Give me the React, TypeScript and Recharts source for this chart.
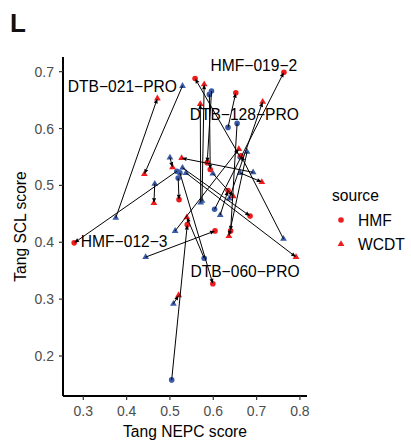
import React from 'react';
import { ScatterChart, Scatter, XAxis, YAxis } from 'recharts';

// ---- data: each sample goes from a "pre" point (blue) to a "post" point (red) ----
const preX = [0.375, 0.529, 0.465, 0.516, 0.519, 0.500, 0.692, 0.591, 0.662, 0.634, 0.571, 0.574, 0.596, 0.637, 0.603, 0.662, 0.678, 0.512, 0.762, 0.444, 0.504, 0.579, 0.508, 0.537, 0.529, 0.523, 0.599, 0.616, 0.655];
const preY = [0.443, 0.675, 0.503, 0.525, 0.513, 0.549, 0.523, 0.660, 0.550, 0.602, 0.470, 0.473, 0.666, 0.477, 0.458, 0.522, 0.559, 0.420, 0.406, 0.374, 0.158, 0.372, 0.292, 0.522, 0.531, 0.522, 0.521, 0.448, 0.609];
const preSrc = ['WCDT', 'WCDT', 'WCDT', 'HMF', 'HMF', 'WCDT', 'WCDT', 'HMF', 'HMF', 'HMF', 'WCDT', 'WCDT', 'HMF', 'WCDT', 'HMF', 'WCDT', 'WCDT', 'WCDT', 'WCDT', 'WCDT', 'HMF', 'HMF', 'WCDT', 'WCDT', 'WCDT', 'HMF', 'WCDT', 'WCDT', 'HMF'];
const postX = [0.471, 0.441, 0.463, 0.279, 0.521, 0.506, 0.527, 0.593, 0.558, 0.652, 0.570, 0.579, 0.586, 0.714, 0.763, 0.712, 0.636, 0.659, 0.664, 0.604, 0.540, 0.539, 0.520, 0.791, 0.685, 0.599, 0.646, 0.634, 0.640];
const postY = [0.653, 0.520, 0.469, 0.399, 0.475, 0.532, 0.548, 0.528, 0.688, 0.663, 0.643, 0.678, 0.540, 0.647, 0.699, 0.506, 0.411, 0.564, 0.552, 0.420, 0.431, 0.444, 0.307, 0.374, 0.446, 0.327, 0.481, 0.491, 0.420];
const postSrc = ['WCDT', 'WCDT', 'WCDT', 'HMF', 'HMF', 'WCDT', 'WCDT', 'HMF', 'HMF', 'HMF', 'WCDT', 'WCDT', 'HMF', 'WCDT', 'HMF', 'WCDT', 'WCDT', 'WCDT', 'HMF', 'HMF', 'HMF', 'WCDT', 'WCDT', 'WCDT', 'HMF', 'HMF', 'WCDT', 'HMF', 'HMF'];

const labelNames = ['HMF−019−2', 'DTB−021−PRO', 'DTB−128−PRO', 'HMF−012−3', 'DTB−060−PRO'];
const labelSample = [14, 0, 13, 3, 23];

const xTicks = [0.3, 0.4, 0.5, 0.6, 0.7, 0.8];
const yTicks = [0.2, 0.3, 0.4, 0.5, 0.6, 0.7];
const legendItems = ['HMF', 'WCDT'];

// ---- styling / layout ----
const FONT = '"Liberation Sans", Arial, Helvetica, sans-serif';
const RED = '#ee1c1c';
const BLUE = '#3b5ba8';
const LABEL_SIZE = 15.6;
const LABEL_OFFSETS = [
  { dx: -30, dy: -6.5 },
  { dx: -35, dy: -12.3 },
  { dx: -18.4, dy: 13 },
  { dx: 50, dy: -1.7 },
  { dx: -51, dy: 14.3 },
];

const tri = (cx: number, cy: number) =>
  `${cx},${cy - 3.8} ${cx - 3.4},${cy + 2} ${cx + 3.4},${cy + 2}`;

const makeShape = (color: string) => (props: any) => {
  const { cx, cy, payload } = props;
  if (cx == null || cy == null) return <g />;
  if (payload.src === 'WCDT') return <polygon points={tri(cx, cy)} fill={color} />;
  return <circle cx={cx} cy={cy} r={2.8} fill={color} />;
};
const BlueShape = makeShape(BLUE);
const RedShape = makeShape(RED);
const Empty = () => <g />;

const renderArrow = (props: any) => {
  const pts = props.points;
  if (!pts || pts.length < 2) return <g />;
  const a = pts[0];
  const b = pts[1];
  const dx = b.x - a.x;
  const dy = b.y - a.y;
  const len = Math.hypot(dx, dy) || 1;
  const ux = dx / len;
  const uy = dy / len;
  const L = 5;
  const W = 2;
  const bx = b.x - ux * L;
  const by = b.y - uy * L;
  const head = `${b.x},${b.y} ${bx - uy * W},${by + ux * W} ${bx + uy * W},${by - ux * W}`;
  return (
    <g>
      <line x1={a.x} y1={a.y} x2={bx} y2={by} stroke="#000" strokeWidth={1} />
      <polygon points={head} fill="#000" />
    </g>
  );
};

const LabelShape = (props: any) => {
  const { cx, cy, payload } = props;
  if (cx == null) return <g />;
  const off = LABEL_OFFSETS[payload.j];
  return (
    <text
      x={cx + off.dx}
      y={cy + off.dy + LABEL_SIZE * 0.358}
      textAnchor="middle"
      fontFamily={FONT}
      fontSize={LABEL_SIZE}
      fill="#000"
    >
      {payload.name}
    </text>
  );
};

const preData = preX.map((x, i) => ({ x, y: preY[i], src: preSrc[i] }));
const postData = postX.map((x, i) => ({ x, y: postY[i], src: postSrc[i] }));
const labelData = labelSample.map((k, j) => ({ x: postX[k], y: postY[k], name: labelNames[j], j }));

export default function App() {
  return (
    <div style={{ position: 'absolute', left: 0, top: 0, width: 411, height: 442, background: '#fff' }}>
      <ScatterChart width={411} height={442} margin={{ top: 57, right: 104, bottom: 16, left: 13 }}>
        <XAxis
          type="number"
          dataKey="x"
          domain={[0.2532, 0.8163]}
          allowDataOverflow
          ticks={xTicks}
          tickFormatter={(v: number) => v.toFixed(1)}
          height={30}
          axisLine={{ stroke: '#000', strokeWidth: 2 }}
          tickLine={{ stroke: '#333', strokeWidth: 1.2 }}
          tickSize={4}
          tickMargin={6}
          tick={{ fill: '#4d4d4d', fontSize: 14, fontFamily: FONT }}
        />
        <YAxis
          type="number"
          dataKey="y"
          domain={[0.1297, 0.7258]}
          allowDataOverflow
          ticks={yTicks}
          tickFormatter={(v: number) => v.toFixed(1)}
          width={50}
          axisLine={{ stroke: '#000', strokeWidth: 2 }}
          tickLine={{ stroke: '#333', strokeWidth: 1.2 }}
          tickSize={4}
          tickMargin={5}
          tick={{ fill: '#4d4d4d', fontSize: 14, fontFamily: FONT }}
        />
        <Scatter data={preData} shape={BlueShape} isAnimationActive={false} legendType="none" />
        <Scatter data={postData} shape={RedShape} isAnimationActive={false} legendType="none" />
        {preX.map((_, i) => (
          <Scatter
            key={'arr' + i}
            data={[{ x: preX[i], y: preY[i] }, { x: postX[i], y: postY[i] }]}
            line={renderArrow}
            shape={Empty}
            isAnimationActive={false}
            legendType="none"
          />
        ))}
        <Scatter data={labelData} shape={LabelShape} isAnimationActive={false} legendType="none" />
      </ScatterChart>
      <svg
        width={411}
        height={442}
        style={{ position: 'absolute', left: 0, top: 0, pointerEvents: 'none' }}
        fontFamily={FONT}
      >
        <text x={10} y={32} fontSize={26} fontWeight="bold" fill="#111">L</text>
        <text x={185} y={437} fontSize={15.6} textAnchor="middle" fill="#000">Tang NEPC score</text>
        <text x={0} y={0} fontSize={15.6} textAnchor="middle" fill="#000" transform="translate(25.6,226.5) rotate(-90)">
          Tang SCL score
        </text>
        <text x={332} y={200.6} fontSize={15.6} fill="#000">source</text>
        {legendItems.map((name, i) => {
          const cy = 220 + i * 24;
          return (
            <g key={name}>
              {name === 'WCDT' ? (
                <polygon points={tri(341, cy)} fill={RED} />
              ) : (
                <circle cx={341} cy={cy} r={2.8} fill={RED} />
              )}
              <text x={358} y={cy + 5.6} fontSize={15.6} fill="#000">{name}</text>
            </g>
          );
        })}
      </svg>
    </div>
  );
}
